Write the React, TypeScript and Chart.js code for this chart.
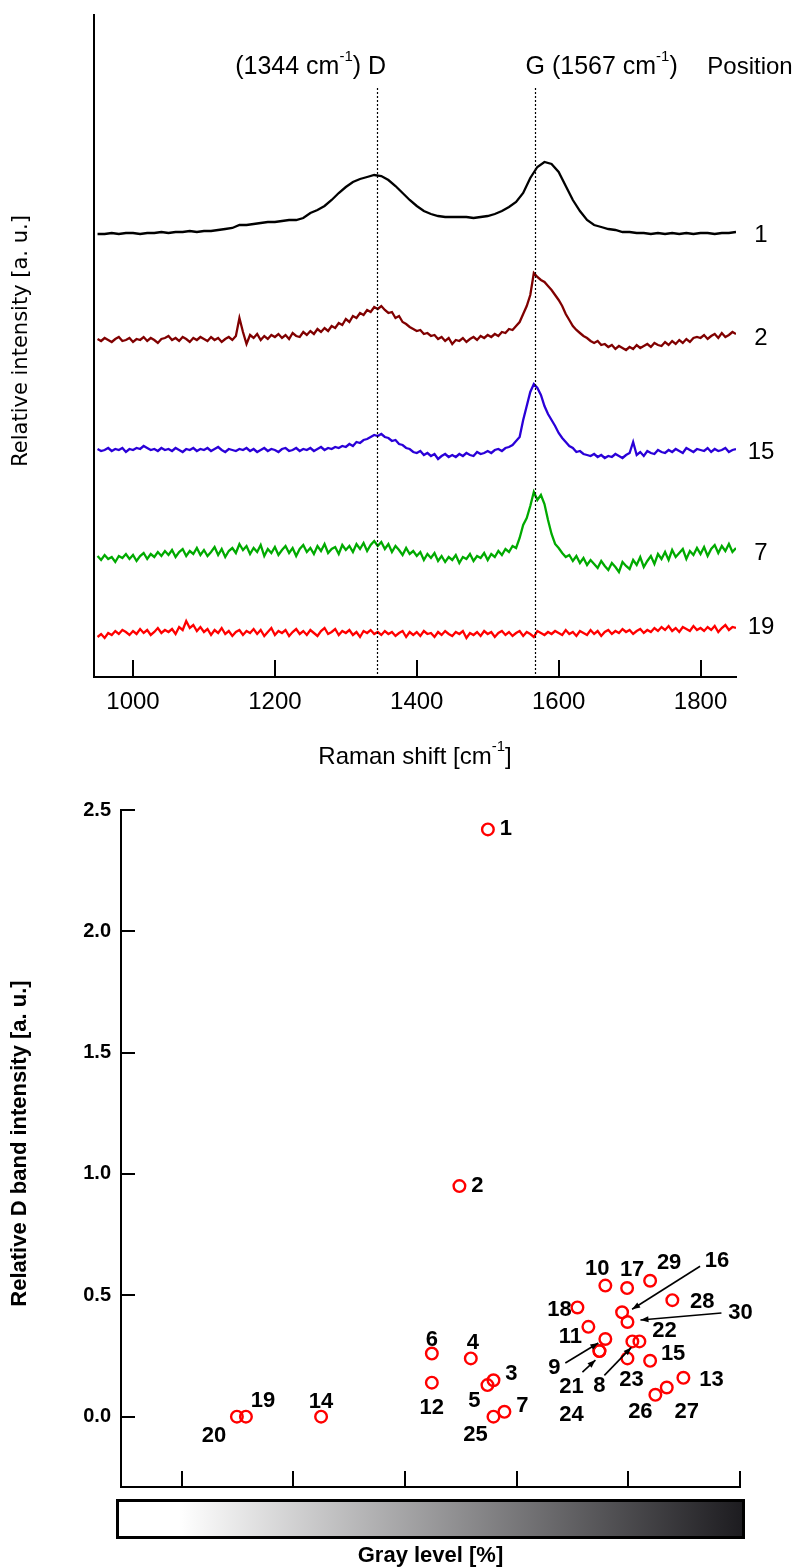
import React, { useEffect, useRef } from "react";
import { Chart, registerables } from "chart.js";
Chart.register(...registerables);

const W = 793;
const TOP_H = 780;
const BOT_H = 788;
const SANS = '"Liberation Sans", Arial, sans-serif';

// ---------------- Raman spectra (top) ----------------
const shiftStart = 950;
const fineStep = 5;
const coarseStep = 10;
const shiftMin = 945;
const shiftMax = 1850;
const ramanTicks = [1000, 1200, 1400, 1600, 1800];
const peakD = 1344;
const peakG = 1567;
const positionNames = ["1", "2", "15", "7", "19"];
const positionColors = ["#000000", "#800000", "#2a00d8", "#00aa00", "#ff0000"];
const positionOffsets = [443, 337, 227, 119, 44];
const positionLabelLift = [-1, 2, -2, 5, 6];

// position 1, sampled every 10 cm-1 from 950
const pos1 = [
  0, 0, 1, 0, 1, 1, 0, 1, 1, 2,
  1, 2, 2, 3, 2, 3, 3, 4, 5, 6,
  9, 9, 10, 11, 12, 12, 13, 14, 14, 16,
  21, 24, 28, 34, 41, 47, 52, 55, 57, 59,
  58, 54, 48, 41, 34, 28, 23, 20, 18, 17,
  17, 17, 17, 16, 17, 18, 20, 23, 27, 32,
  41, 56, 67, 72, 70, 62, 48, 34, 23, 14,
  9, 7, 5, 4, 2, 2, 1, 1, 0, 1,
  0, 1, 0, 1, 0, 1, 1, 0, 1, 1,
  2,
];
// positions 2, 15, 7, 19 sampled every 5 cm-1 from 950
const pos2 = [
  1, -1, 2, 0, -2, 1, 3, -1, 0, 2,
  -2, 1, 0, 3, -1, 2, 0, -3, 1, 2,
  4, 0, 2, -1, 3, 1, -2, 2, 0, 3,
  1, -1, 3, 0, 2, -2, 1, 3, 0, 4,
  22, 8, -4, 5, 2, 6, 0, 4, 1, 5,
  3, 6, 2, 5, 1, 7, 4, 3, 8, 5,
  9, 6, 11, 8, 12, 9, 14, 12, 17, 15,
  21, 18, 24, 22, 27, 25, 30, 28, 33, 31,
  34, 30, 27, 28, 22, 24, 18, 16, 13, 11,
  9, 10, 6, 7, 4, 5, 1, 3, -1, 2,
  -4, 0, -1, 2, -2, 1, 3, 0, 4, 2,
  5, 3, 6, 4, 8, 7, 11, 10, 14, 18,
  26, 34, 45, 67, 63, 60, 58, 54, 50, 45,
  40, 34, 26, 20, 14, 10, 7, 4, 2, -1,
  -3, -1, -5, -4, -7, -5, -9, -6, -8, -10,
  -7, -9, -5, -8, -6, -4, -7, -3, -5, -6,
  -2, -5, -1, -4, 0, -3, 1, -2, 2, 3,
  2, 5, 1, 4, 6, 2, 7, 3, 5, 8,
  6,
];
const pos15 = [
  1, -1, 0, 2, -1, 1, 0, 2, -2, 1,
  0, 2, 1, 4, 2, 0, 1, -1, 2, 0,
  1, -1, 2, 0, -2, 1, 0, 2, -1, 1,
  0, 2, -1, 1, 3, 0, -2, 1, 0, -1,
  1, 0, 2, -1, 1, -2, 0, 2, -1, 1,
  0, -2, 1, 2, -1, 0, 2, -1, 1, 0,
  2, -1, 1, 3, 0, 2, 1, 3, 2, 4,
  3, 6, 4, 8, 7, 10, 11, 13, 15, 14,
  16, 13, 12, 9, 10, 6, 5, 2, 1, -2,
  -3, -1, -5, -3, -6, -4, -9, -6, -4, -7,
  -5, -7, -4, -6, -3, -5, -6, -2, -4, -3,
  -1, -3, 0, 1, -1, 2, 3, 5, 9, 13,
  30, 44, 58, 66, 62, 55, 44, 36, 30, 24,
  17, 12, 8, 4, 2, -2, -1, -4, -5, -6,
  -4, -7, -5, -8, -6, -7, -4, -6, -8, -5,
  -3, 8, -5, -2, -6, -1, -3, -4, 0, -2,
  -3, 0, -2, 1, -1, -3, 2, 0, -2, 1,
  0, -1, 2, -2, 1, -1, 0, 2, -2, 0,
  1,
];
const pos7 = [
  2, -2, 3, -1, 1, -4, 2, 0, 4, -1,
  3, -3, 2, 5, -1, 4, 1, 6, 2, 7,
  3, 8, 1, 6, 9, 2, 7, 4, 10, 3,
  8, 2, 6, 11, 3, 9, 1, 7, 10, 5,
  14, 8, 12, 4, 10, 6, 13, 2, 9, 5,
  11, 3, 8, 12, 5, 10, 2, 9, 13, 6,
  10, 4, 12, 7, 14, 5, 9, 11, 4, 13,
  8, 12, 6, 14, 9, 15, 7, 13, 17, 12,
  16, 9, 14, 6, 12, 8, 3, 10, 4, 7,
  2, 6, -2, 4, 0, 5, -3, 2, -4, 1,
  -2, 3, -5, 1, -1, 4, -3, 2, 0, 5,
  -2, 4, 1, 7, 3, 9, 6, 12, 10, 20,
  33, 40, 52, 66, 58, 63, 54, 38, 24, 14,
  10, 5, 1, 3, -3, 2, -5, 0, -7, -2,
  -6, -10, -3, -8, -12, -5, -9, -14, -4, -8,
  -11, -2, -7, 1, -9, -3, 2, -6, 4, -1,
  6, -2, 8, 1, 5, 9, -1, 7, 3, 10,
  4, 11, 2, 9, 13, 5, 12, 7, 14, 6,
  10,
];
const pos19 = [
  -4, -1, -5, 0, -2, 2, -1, 3, 1, -2,
  2, -1, 4, 0, 3, -2, 1, 5, 0, 3,
  1, 4, -1, 6, 3, 12, 5, 8, 2, 6,
  1, 4, -2, 3, 0, 5, -1, 2, -3, 1,
  3, -2, 2, 0, 4, -1, 3, -3, 1, 5,
  -2, 2, 0, 3, -3, 1, 4, -1, 2, -2,
  3, 0, -3, 2, 5, -1, 1, 4, -2, 2,
  0, 3, -2, 1, -4, 2, 0, 3, -1, 1,
  -2, 2, -1, 1, -3, 0, 2, -4, 1, -2,
  1, -3, 2, -1, 0, -4, 1, -2, 2, -1,
  -3, 1, -1, 2, -5, 0, -2, 1, -3, 2,
  -1, 1, -4, 0, 2, -2, 1, -3, 0, 2,
  -3, 1, -1, -4, 2, 0, -2, 1, -1, 2,
  0, -2, 3, -1, 1, -3, 2, 0, -2, 3,
  -1, 2, -3, 1, 3, -1, 2, 0, 4, 1,
  3, -1, 2, 4, 0, 3, 1, 5, 2, 6,
  3, 7, 2, 5, 1, 6, 4, 2, 7, 3,
  5, 2, 6, 3, 7, 1, 5, 8, 3, 6,
  5,
];
const spectra = [pos1, pos2, pos15, pos7, pos19];
const spectraSteps = [coarseStep, fineStep, fineStep, fineStep, fineStep];

// ---------------- D band vs gray level (bottom) ----------------
const pointNames = [
  "1", "2", "3", "4", "5", "6", "7", "8", "9", "10",
  "11", "12", "13", "14", "15", "16", "17", "18", "19", "20",
  "21", "22", "23", "24", "25", "26", "27", "28", "29", "30",
];
const grayLevel = [
  37.42, 34.87, 37.92, 35.89, 37.38, 32.4, 38.9, 50.36, 47.94, 47.94,
  46.42, 32.4, 54.93, 22.48, 51.95, 49.44, 49.89, 45.44, 15.75, 14.94,
  47.41, 50.99, 49.92, 47.41, 37.92, 52.42, 53.44, 53.94, 51.95, 49.92,
];
const dBandIntensity = [
  2.42, 0.95, 0.15, 0.24, 0.13, 0.26, 0.02, 0.31, 0.32, 0.54,
  0.37, 0.14, 0.16, 0.0, 0.23, 0.43, 0.53, 0.45, 0.0, 0.0,
  0.27, 0.31, 0.24, 0.27, 0.0, 0.09, 0.12, 0.48, 0.56, 0.39,
];
const grayTicks = [10, 20, 30, 40, 50, 60];
const dTicks = [0, 0.5, 1.0, 1.5, 2.0, 2.5];

// label placement (pixels from the marker)
const labelOffsets: [number, number][] = [
  [18, 0], [18, 0], [18, -6], [2, -15], [-13, 16], [0, -14], [18, -6], [-33, 45], [-51, 29], [-8, -17],
  [-18, 10], [0, 25], [28, 2], [0, -15], [23, -7], [95, -51], [5, -18], [-18, 3], [17, -16], [-23, 19],
  [-28, 36], [25, -10], [4, 22], [-28, 64], [-18, 18], [-15, 17], [20, 24], [30, 2], [19, -18], [113, -9],
];
// leader arrows: point index, start offset, end offset
const arrows: { i: number; s: [number, number]; e: [number, number] }[] = [
  { i: 15, s: [78, -46], e: [10, -3] },
  { i: 29, s: [94, -9], e: [13, -2] },
  { i: 8, s: [-40, 24], e: [-7, 4] },
  { i: 20, s: [-17, 21], e: [-4, 9] },
  { i: 7, s: [-28, 34], e: [-1, 6] },
];

type Part = { t: string; sup?: boolean };
function richWidth(ctx: CanvasRenderingContext2D, parts: Part[], size: number, supSize: number) {
  let w = 0;
  for (const p of parts) {
    ctx.font = `${p.sup ? supSize : size}px ${SANS}`;
    w += ctx.measureText(p.t).width;
  }
  return w;
}
function drawRich(ctx: CanvasRenderingContext2D, parts: Part[], x: number, y: number, size: number, supSize: number) {
  let cx = x;
  ctx.textAlign = "left";
  ctx.textBaseline = "middle";
  for (const p of parts) {
    ctx.font = `${p.sup ? supSize : size}px ${SANS}`;
    ctx.fillText(p.t, cx, p.sup ? y - size * 0.42 : y);
    cx += ctx.measureText(p.t).width;
  }
}

const topDecor = {
  id: "topDecor",
  afterDatasetsDraw(chart: any) {
    const { ctx, chartArea: ca, scales } = chart;
    const xs = scales.x;
    const ys = scales.y;
    ctx.save();
    ctx.strokeStyle = "#000";
    ctx.fillStyle = "#000";
    // inward ticks
    ctx.lineWidth = 2;
    for (const v of ramanTicks) {
      const px = Math.round(xs.getPixelForValue(v));
      ctx.beginPath();
      ctx.moveTo(px, ca.bottom);
      ctx.lineTo(px, ca.bottom - 17);
      ctx.stroke();
    }
    // dotted peak markers
    ctx.lineWidth = 1.2;
    ctx.setLineDash([2, 2]);
    for (const v of [peakD, peakG]) {
      const px = Math.round(xs.getPixelForValue(v)) + 0.5;
      ctx.beginPath();
      ctx.moveTo(px, ys.getPixelForValue(589));
      ctx.lineTo(px, ca.bottom);
      ctx.stroke();
    }
    ctx.setLineDash([]);
    // peak annotations
    const size = 25, sup = 15, ty = ca.top + 52;
    const dParts: Part[] = [{ t: "(1344 cm" }, { t: "-1", sup: true }, { t: ") D" }];
    ctx.font = `${size}px ${SANS}`;
    const dW = ctx.measureText("D").width;
    const dTot = richWidth(ctx, dParts, size, sup);
    const dx = xs.getPixelForValue(peakD);
    drawRich(ctx, dParts, dx + dW / 2 - dTot, ty, size, sup);
    const gParts: Part[] = [{ t: "G (1567 cm" }, { t: "-1", sup: true }, { t: ")" }];
    ctx.font = `${size}px ${SANS}`;
    const gW = ctx.measureText("G").width;
    const gx = xs.getPixelForValue(peakG);
    drawRich(ctx, gParts, gx - gW / 2, ty, size, sup);
    ctx.font = `24px ${SANS}`;
    ctx.textAlign = "center";
    ctx.textBaseline = "middle";
    ctx.fillText("Position", ca.right + 14, ty);
    // position labels
    positionNames.forEach((n, i) => {
      ctx.fillText(n, ca.right + 25, ys.getPixelForValue(positionOffsets[i] + positionLabelLift[i]));
    });
    // x title
    const tParts: Part[] = [{ t: "Raman shift [cm" }, { t: "-1", sup: true }, { t: "]" }];
    const tW = richWidth(ctx, tParts, 24, sup);
    drawRich(ctx, tParts, (ca.left + ca.right) / 2 - tW / 2, ca.bottom + 80, 24, sup);
    // y title
    ctx.save();
    ctx.translate(22, (ca.top + ca.bottom) / 2 - 5);
    ctx.rotate(-Math.PI / 2);
    ctx.font = `21px "DejaVu Sans", sans-serif`;
    ctx.textAlign = "center";
    ctx.textBaseline = "middle";
    ctx.fillText("Relative intensity [a. u.]", 0, 0);
    ctx.restore();
    ctx.restore();
  },
};

const bottomDecor = {
  id: "bottomDecor",
  afterDatasetsDraw(chart: any) {
    const { ctx, chartArea: ca, scales } = chart;
    const xs = scales.x;
    const ys = scales.y;
    ctx.save();
    ctx.strokeStyle = "#000";
    ctx.fillStyle = "#000";
    ctx.lineWidth = 2;
    for (const v of grayTicks) {
      const px = Math.round(xs.getPixelForValue(v));
      ctx.beginPath();
      ctx.moveTo(px, ca.bottom);
      ctx.lineTo(px, ca.bottom - 16);
      ctx.stroke();
    }
    for (const v of dTicks) {
      const py = Math.round(ys.getPixelForValue(v));
      ctx.beginPath();
      ctx.moveTo(ca.left, py);
      ctx.lineTo(ca.left + 14, py);
      ctx.stroke();
    }
    // point labels
    const meta = chart.getDatasetMeta(0);
    ctx.font = `bold 22px ${SANS}`;
    ctx.textAlign = "center";
    ctx.textBaseline = "middle";
    pointNames.forEach((n, i) => {
      const el = meta.data[i];
      ctx.fillText(n, el.x + labelOffsets[i][0], el.y + labelOffsets[i][1]);
    });
    // leader arrows
    ctx.lineWidth = 1.6;
    for (const a of arrows) {
      const el = meta.data[a.i];
      const sx = el.x + a.s[0], sy = el.y + a.s[1];
      const ex = el.x + a.e[0], ey = el.y + a.e[1];
      ctx.beginPath();
      ctx.moveTo(sx, sy);
      ctx.lineTo(ex, ey);
      ctx.stroke();
      const ang = Math.atan2(ey - sy, ex - sx);
      const L = 8, Wd = 3;
      ctx.beginPath();
      ctx.moveTo(ex, ey);
      ctx.lineTo(ex - L * Math.cos(ang) + Wd * Math.sin(ang), ey - L * Math.sin(ang) - Wd * Math.cos(ang));
      ctx.lineTo(ex - L * Math.cos(ang) - Wd * Math.sin(ang), ey - L * Math.sin(ang) + Wd * Math.cos(ang));
      ctx.closePath();
      ctx.fill();
    }
    // gray scale bar
    const bx0 = ca.left - 5, bx1 = ca.right + 5, by0 = ca.bottom + 12, by1 = ca.bottom + 52;
    const gStart = xs.getPixelForValue(grayTicks[0]) - 3;
    const grad = ctx.createLinearGradient(gStart, 0, bx1, 0);
    grad.addColorStop(0, "#ffffff");
    grad.addColorStop(1, "#1c1b1f");
    ctx.fillStyle = "#ffffff";
    ctx.fillRect(bx0, by0, gStart - bx0, by1 - by0);
    ctx.fillStyle = grad;
    ctx.fillRect(gStart, by0, bx1 - gStart, by1 - by0);
    ctx.lineWidth = 3;
    ctx.strokeRect(bx0 + 1.5, by0 + 1.5, bx1 - bx0 - 3, by1 - by0 - 3);
    ctx.fillStyle = "#000";
    ctx.font = `bold 22px ${SANS}`;
    ctx.fillText("Gray level [%]", (bx0 + bx1) / 2, ca.bottom + 69);
    // y title
    ctx.save();
    ctx.translate(20, (ca.top + ca.bottom) / 2 - 5);
    ctx.rotate(-Math.PI / 2);
    ctx.font = `bold 22px ${SANS}`;
    ctx.fillText("Relative D band intensity [a. u.]", 0, 0);
    ctx.restore();
    ctx.restore();
  },
};

function topConfig(): any {
  return {
    type: "line",
    data: {
      datasets: spectra.map((s, k) => ({
        label: positionNames[k],
        data: s.map((v, i) => ({ x: shiftStart + i * spectraSteps[k], y: positionOffsets[k] + v })),
        borderColor: positionColors[k],
        borderWidth: 2.3,
        pointRadius: 0,
        tension: 0,
        fill: false,
      })),
    },
    options: {
      responsive: false,
      devicePixelRatio: 1,
      animation: false,
      layout: { padding: { left: 94, right: W - 736, top: 15, bottom: 0 } },
      plugins: { legend: { display: false }, tooltip: { enabled: false } },
      scales: {
        x: {
          type: "linear",
          min: shiftMin,
          max: shiftMax,
          afterBuildTicks: (s: any) => {
            s.ticks = ramanTicks.map((v) => ({ value: v }));
          },
          afterFit: (s: any) => {
            s.height = TOP_H - 677;
          },
          ticks: {
            autoSkip: false,
            maxRotation: 0,
            padding: 11,
            color: "#000",
            font: { size: 24, family: SANS },
            callback: (v: any) => String(v),
          },
          grid: { display: false, drawTicks: false },
          border: { display: true, color: "#000", width: 2 },
        },
        y: {
          type: "linear",
          min: 0,
          max: 662,
          afterFit: (s: any) => {
            s.width = 0;
          },
          ticks: { display: false },
          grid: { display: false, drawTicks: false },
          border: { display: true, color: "#000", width: 2 },
        },
      },
    },
    plugins: [topDecor],
  };
}

function bottomConfig(): any {
  return {
    type: "scatter",
    data: {
      datasets: [
        {
          data: grayLevel.map((g, i) => ({ x: g, y: dBandIntensity[i] })),
          borderColor: "#ff0000",
          backgroundColor: "rgba(255,255,255,0)",
          borderWidth: 2.4,
          pointRadius: 5.8,
          pointStyle: "circle",
        },
      ],
    },
    options: {
      responsive: false,
      devicePixelRatio: 1,
      animation: false,
      layout: { padding: { left: 0, right: W - 740, top: 30, bottom: 81 } },
      plugins: { legend: { display: false }, tooltip: { enabled: false } },
      scales: {
        x: {
          type: "linear",
          min: 4.56,
          max: 60,
          afterFit: (s: any) => {
            s.height = 0;
          },
          ticks: { display: false },
          grid: { display: false, drawTicks: false },
          border: { display: true, color: "#000", width: 2 },
        },
        y: {
          type: "linear",
          min: -0.29,
          max: 2.5,
          afterBuildTicks: (s: any) => {
            s.ticks = dTicks.map((v) => ({ value: v }));
          },
          afterFit: (s: any) => {
            s.width = 121;
          },
          ticks: {
            padding: 10,
            color: "#000",
            font: { size: 20, weight: "bold", family: SANS },
            callback: (v: any) => Number(v).toFixed(1),
          },
          grid: { display: false, drawTicks: false },
          border: { display: true, color: "#000", width: 2 },
        },
      },
    },
    plugins: [bottomDecor],
  };
}

export default function App() {
  const topRef = useRef<HTMLCanvasElement>(null);
  const botRef = useRef<HTMLCanvasElement>(null);
  useEffect(() => {
    const c1 = new Chart(topRef.current as HTMLCanvasElement, topConfig());
    const c2 = new Chart(botRef.current as HTMLCanvasElement, bottomConfig());
    return () => {
      c1.destroy();
      c2.destroy();
    };
  }, []);
  return (
    <div style={{ position: "absolute", left: 0, top: 0, width: W, height: TOP_H + BOT_H, background: "#fff" }}>
      <canvas
        ref={topRef}
        width={W}
        height={TOP_H}
        style={{ position: "absolute", left: 0, top: 0, width: W, height: TOP_H }}
      />
      <canvas
        ref={botRef}
        width={W}
        height={BOT_H}
        style={{ position: "absolute", left: 0, top: TOP_H, width: W, height: BOT_H }}
      />
    </div>
  );
}
